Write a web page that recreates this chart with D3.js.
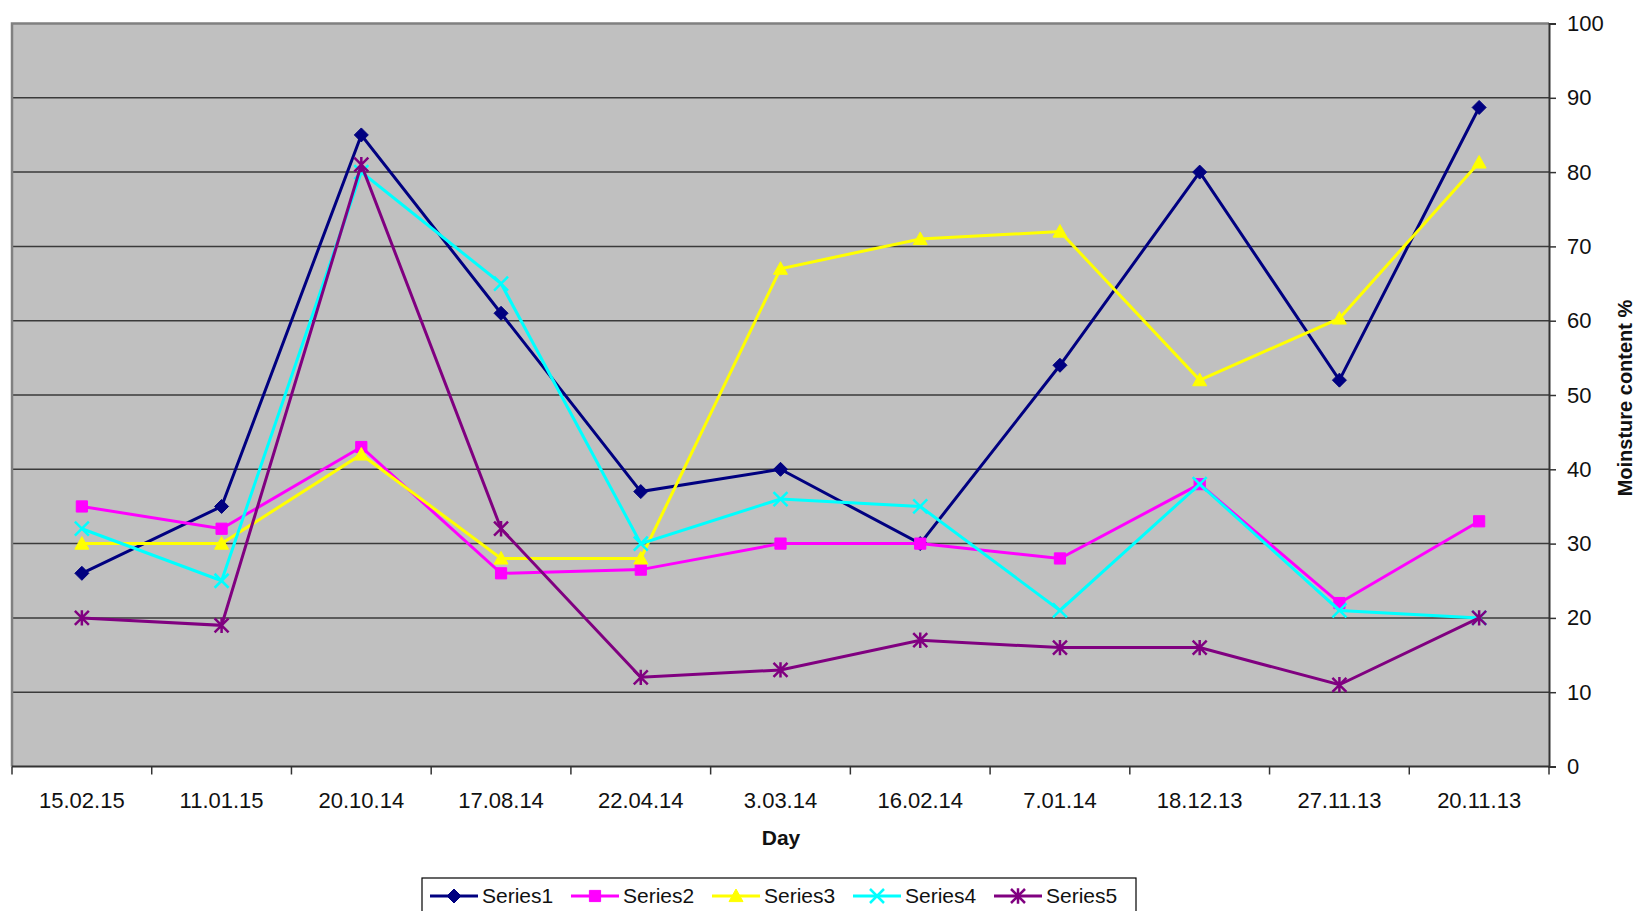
<!DOCTYPE html>
<html>
<head>
<meta charset="utf-8">
<script src="https://cdn.jsdelivr.net/npm/d3@7"></script>
<style>
  html, body { margin: 0; padding: 0; background: #fff; }
  svg { display: block; font-family: "Liberation Sans", Arial, sans-serif; }
</style>
</head>
<body>
<svg id="chart" width="1641" height="911"></svg>
<script>
const categories = ["15.02.15","11.01.15","20.10.14","17.08.14","22.04.14","3.03.14","16.02.14","7.01.14","18.12.13","27.11.13","20.11.13"];
const series1 = [26, 35, 85, 61, 37, 40, 30, 54, 80, 52, 88.7];
const series2 = [35, 32, 43, 26, 26.5, 30, 30, 28, 38, 22, 33];
const series3 = [30, 30, 42, 28, 28, 67, 71, 72, 52, 60.3, 81.3];
const series4 = [32, 25, 80, 65, 30, 36, 35, 21, 38, 21, 20];
const series5 = [20, 19, 81, 32, 12, 13, 17, 16, 16, 11, 20];
const seriesNames = ["Series1","Series2","Series3","Series4","Series5"];
const yTicks = [0,10,20,30,40,50,60,70,80,90,100];
const xTitle = "Day";
const yTitle = "Moinsture content %";

const seriesData = [series1, series2, series3, series4, series5];
const colors = ["#000080", "#FF00FF", "#FFFF00", "#00FFFF", "#800080"];
const markers = ["diamond", "square", "triangle", "x", "star"];

const svg = d3.select("#chart");
const L = 12, R = 1549, T = 23.5, B = 766.5;

const x = d3.scaleBand().domain(categories).range([L, R]).padding(0);
const y = d3.scaleLinear().domain([0, 100]).range([B, T]);

// plot background
svg.append("rect").attr("x", L).attr("y", T).attr("width", R - L).attr("height", B - T)
  .attr("fill", "#C0C0C0");

// gridlines
svg.append("g").selectAll("line").data(yTicks.filter(d => d > 0 && d < 100)).join("line")
  .attr("x1", L).attr("x2", R).attr("y1", d => y(d)).attr("y2", d => y(d))
  .attr("stroke", "#3a3a3a").attr("stroke-width", 1.5);

// plot border (left & top grey)
svg.append("path").attr("d", `M${L},${B} L${L},${T} L${R},${T}`)
  .attr("fill", "none").attr("stroke", "#808080").attr("stroke-width", 2.5);

// right y axis
const yAxis = d3.axisRight(y).tickValues(yTicks).tickSize(7).tickPadding(11);
const gy = svg.append("g").attr("transform", `translate(${R},0)`).call(yAxis);
gy.select(".domain").attr("stroke", "#333").attr("stroke-width", 2);
gy.selectAll(".tick line").attr("stroke", "#333").attr("stroke-width", 1.5);
gy.selectAll(".tick text").attr("font-size", 22).attr("fill", "#111")
  .attr("font-family", "Liberation Sans, Arial, sans-serif");

// bottom x axis with ticks at band boundaries
svg.append("line").attr("x1", L).attr("x2", R).attr("y1", B).attr("y2", B)
  .attr("stroke", "#333").attr("stroke-width", 2);
const bounds = categories.map(c => x(c)).concat([R]);
svg.append("g").selectAll("line").data(bounds).join("line")
  .attr("x1", d => d).attr("x2", d => d).attr("y1", B).attr("y2", B + 8)
  .attr("stroke", "#333").attr("stroke-width", 1.5);
svg.append("g").selectAll("text").data(categories).join("text")
  .attr("x", d => x(d) + x.bandwidth() / 2).attr("y", 808)
  .attr("text-anchor", "middle").attr("font-size", 22).attr("fill", "#111")
  .text(d => d);

// axis titles
svg.append("text").attr("x", 781).attr("y", 845).attr("text-anchor", "middle")
  .attr("font-size", 21).attr("font-weight", "bold").attr("fill", "#111").text(xTitle);
svg.append("text").attr("transform", `translate(1632,398) rotate(-90)`)
  .attr("text-anchor", "middle").attr("font-size", 20).attr("font-weight", "bold")
  .attr("fill", "#111").text(yTitle);

// marker drawing
function markerPath(type, s) {
  switch (type) {
    case "diamond": return `M0,${-s} L${s},0 L0,${s} L${-s},0 Z`;
    case "square": return `M${-s*0.8},${-s*0.8} H${s*0.8} V${s*0.8} H${-s*0.8} Z`;
    case "triangle": return `M0,${-s} L${s},${s*0.8} L${-s},${s*0.8} Z`;
    case "x": return `M${-s},${-s} L${s},${s} M${-s},${s} L${s},${-s}`;
    case "star": return `M${-s},${-s} L${s},${s} M${-s},${s} L${s},${-s} M0,${-s*1.1} L0,${s*1.1}`;
  }
}
function drawMarker(g, type, color, s) {
  const filled = ["diamond","square","triangle"].includes(type);
  g.append("path").attr("d", markerPath(type, s))
    .attr("fill", filled ? color : "none")
    .attr("stroke", color).attr("stroke-width", filled ? 1 : 2.5);
}

const line = d3.line().x((d, i) => x(categories[i]) + x.bandwidth() / 2).y(d => y(d));

seriesData.forEach((vals, si) => {
  const g = svg.append("g");
  g.append("path").datum(vals).attr("d", line).attr("fill", "none")
    .attr("stroke", colors[si]).attr("stroke-width", 3).attr("stroke-linejoin", "miter");
  vals.forEach((v, i) => {
    const mg = g.append("g").attr("transform", `translate(${x(categories[i]) + x.bandwidth() / 2},${y(v)})`);
    drawMarker(mg, markers[si], colors[si], 7);
  });
});

// legend
const lg = svg.append("g");
lg.append("rect").attr("x", 422).attr("y", 878).attr("width", 714).attr("height", 40)
  .attr("fill", "#fff").attr("stroke", "#000").attr("stroke-width", 1.2);
const itemX = [430, 571, 712, 853, 994];
seriesNames.forEach((n, i) => {
  const g = lg.append("g").attr("transform", `translate(${itemX[i]},896)`);
  g.append("line").attr("x1", 0).attr("x2", 48).attr("y1", 0).attr("y2", 0)
    .attr("stroke", colors[i]).attr("stroke-width", 3);
  const mg = g.append("g").attr("transform", "translate(24,0)");
  drawMarker(mg, markers[i], colors[i], 7);
  g.append("text").attr("x", 52).attr("y", 7).attr("font-size", 21).attr("fill", "#111").text(n);
});
</script>
</body>
</html>
